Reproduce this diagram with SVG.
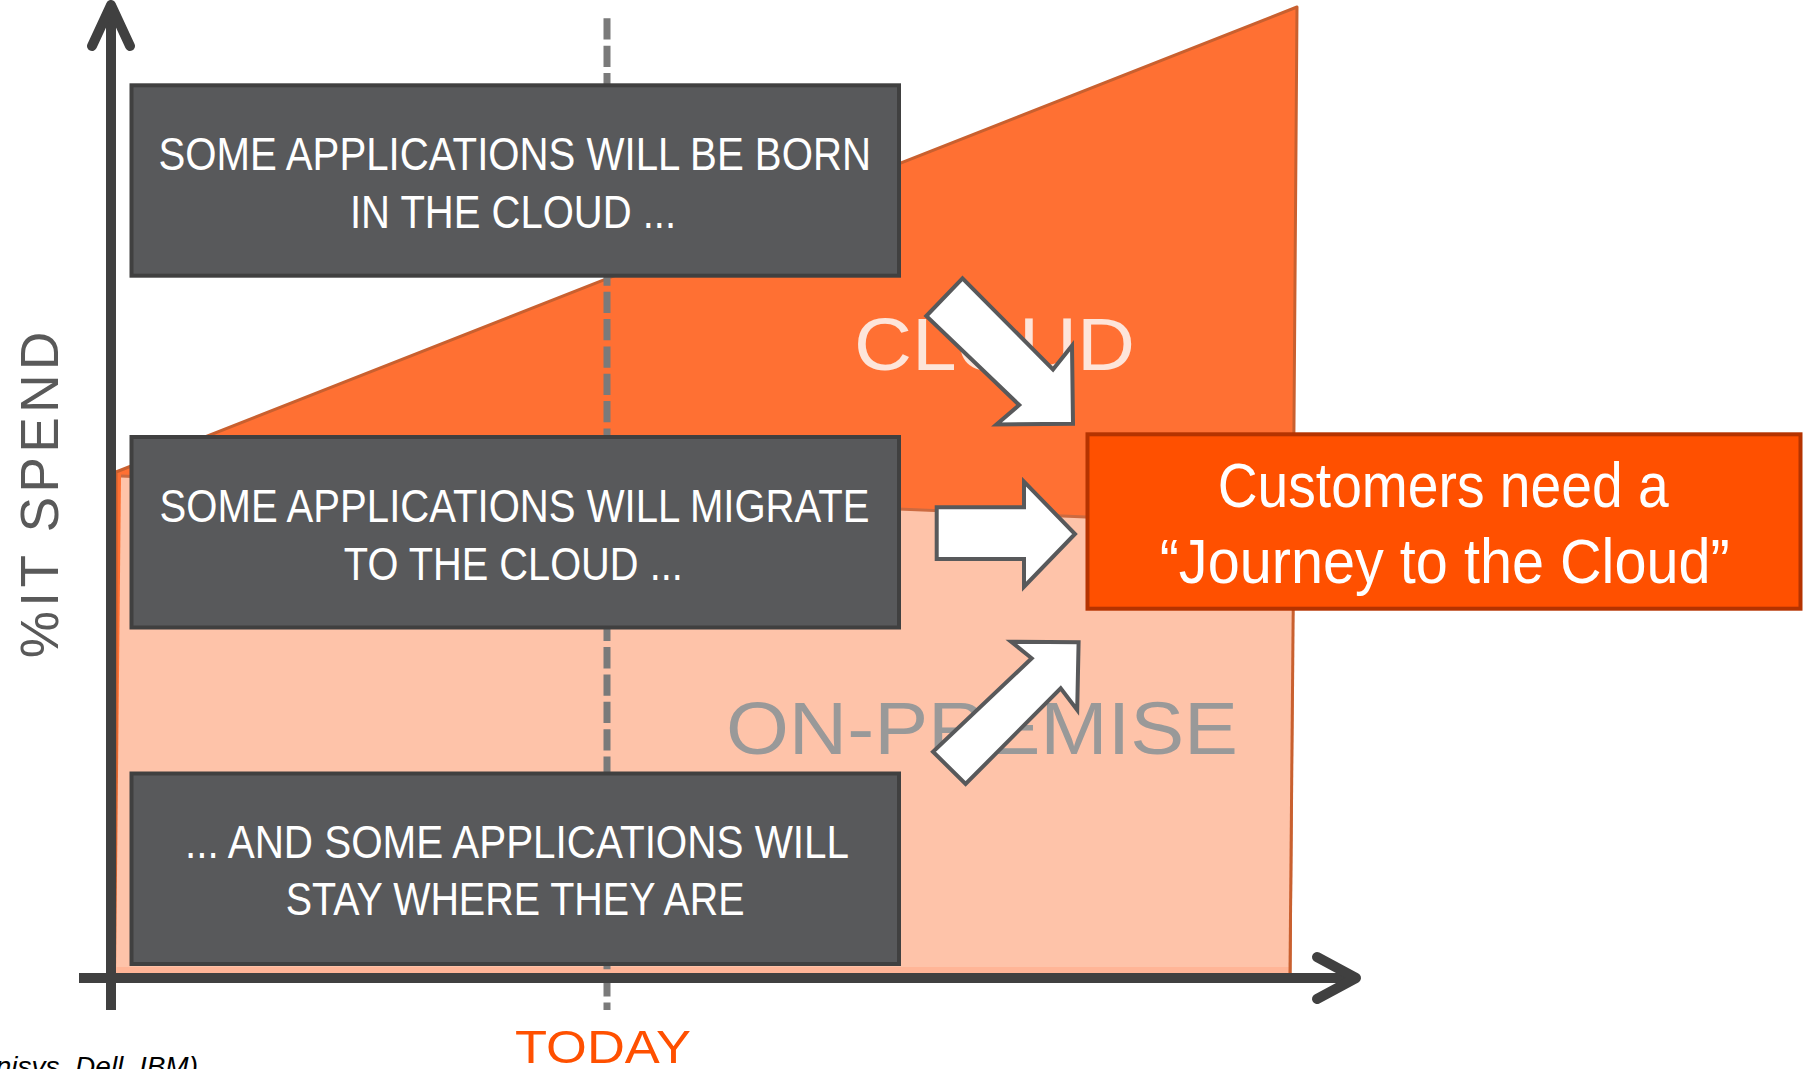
<svg xmlns="http://www.w3.org/2000/svg" width="1813" height="1069" viewBox="0 0 1813 1069">
  <style>
    .box { fill: #58595b; stroke: #404040; stroke-width: 4; }
    .boxtxt { font-family: "Liberation Sans", Arial, sans-serif; font-size: 46.5px; fill: #ffffff; }
    .hl { fill: #ff5000; stroke: #b53300; stroke-width: 4; }
    .hltxt { font-family: "Liberation Sans", Arial, sans-serif; font-size: 63px; fill: #ffffff; }
    .barrow { fill: #ffffff; stroke: #58595b; stroke-width: 4; stroke-linejoin: miter; }
    .axis { stroke: #404040; stroke-width: 10; fill: none; }
    .region { font-family: "Liberation Sans", Arial, sans-serif; font-size: 74px; }
  </style>

  <g id="chart-area">
    <polygon id="cloud-area" points="116,472 1297,7 1290,973 116,973" fill="#ff7033" stroke="#c9602f" stroke-width="3" stroke-linejoin="round"/>
    <polygon id="onpremise-area" points="121,476 1293,525.8 1290,973 116,973" fill="#fec3a9"/>
    <line x1="121" y1="476" x2="1293" y2="525.8" stroke="#cc6a40" stroke-width="3"/>
    <rect x="116" y="967" width="1174" height="6" fill="#ffb597"/>
    <line x1="1294" y1="520" x2="1290" y2="973" stroke="#c9602f" stroke-width="3"/>
    <text class="region" x="854" y="370" textLength="281" lengthAdjust="spacingAndGlyphs" fill="#fde5da">CLOUD</text>
    <text class="region" x="726" y="754" textLength="512" lengthAdjust="spacingAndGlyphs" fill="#999999">ON-PREMISE</text>
  </g>

  <line id="today-line" x1="607" y1="18.3" x2="607" y2="1010" stroke="#7a7a7a" stroke-width="7" stroke-dasharray="21.3 6.04"/>

  <g id="axes">
    <line class="axis" x1="111" y1="1010" x2="111" y2="8"/>
    <polyline class="axis" points="92,46 111,5 130,46" stroke-linecap="round" stroke-linejoin="round"/>
    <line class="axis" x1="79" y1="978" x2="1352" y2="978"/>
    <polyline class="axis" points="1317,957 1356,978 1317,999" stroke-linecap="round" stroke-linejoin="round"/>
    <text transform="translate(58.3,658.3) rotate(-90)" x="0" y="0" textLength="326.6" font-family="Liberation Sans, Arial, sans-serif" font-size="53" fill="#595959">%IT SPEND</text>
    <text x="515" y="1063" textLength="176" lengthAdjust="spacingAndGlyphs" font-family="Liberation Sans, Arial, sans-serif" font-size="45.5" fill="#ff5000">TODAY</text>
  </g>

  <g id="box-born">
    <rect class="box" x="131.5" y="85.3" width="767.5" height="190.4"/>
    <text class="boxtxt" x="158.5" y="170" textLength="712.5" lengthAdjust="spacingAndGlyphs">SOME APPLICATIONS WILL BE BORN</text>
    <text class="boxtxt" x="350" y="228.3" textLength="326" lengthAdjust="spacingAndGlyphs">IN THE CLOUD ...</text>
  </g>

  <g id="box-migrate">
    <rect class="box" x="131.5" y="437" width="767.5" height="190.5"/>
    <text class="boxtxt" x="159.6" y="521.7" textLength="710" lengthAdjust="spacingAndGlyphs">SOME APPLICATIONS WILL MIGRATE</text>
    <text class="boxtxt" x="343.8" y="580" textLength="339" lengthAdjust="spacingAndGlyphs">TO THE CLOUD ...</text>
  </g>

  <g id="box-stay">
    <rect class="box" x="131.5" y="773.5" width="767.5" height="190.5"/>
    <text class="boxtxt" x="185" y="857.6" textLength="664" lengthAdjust="spacingAndGlyphs">... AND SOME APPLICATIONS WILL</text>
    <text class="boxtxt" x="285.7" y="914.8" textLength="459" lengthAdjust="spacingAndGlyphs">STAY WHERE THEY ARE</text>
  </g>

  <g id="box-journey">
    <rect class="hl" x="1087.5" y="434.3" width="713" height="174.4"/>
    <text class="hltxt" x="1217.7" y="506.7" textLength="451" lengthAdjust="spacingAndGlyphs">Customers need a</text>
    <text class="hltxt" x="1159.7" y="582.7" textLength="570" lengthAdjust="spacingAndGlyphs">“Journey to the Cloud”</text>
  </g>

  <g id="connectors">
    <polygon class="barrow" points="962.5,278.3 926.3,316 1019.2,405 996.5,424.5 1073,423.7 1072,345.7 1053,369.5"/>
    <polygon class="barrow" points="936.7,507.3 1024,507.3 1024,481.7 1075,534 1024,586.7 1024,559 936.7,559"/>
    <polygon class="barrow" points="1011.2,641.7 1078.6,642.3 1077.2,710 1060.7,688.3 965.6,784 933,751.7 1031.7,658.3"/>
  </g>

  <text x="198" y="1076" text-anchor="end" font-family="Liberation Sans, Arial, sans-serif" font-size="28" font-style="italic" fill="#000000">Unisys, Dell, IBM)</text>
</svg>
